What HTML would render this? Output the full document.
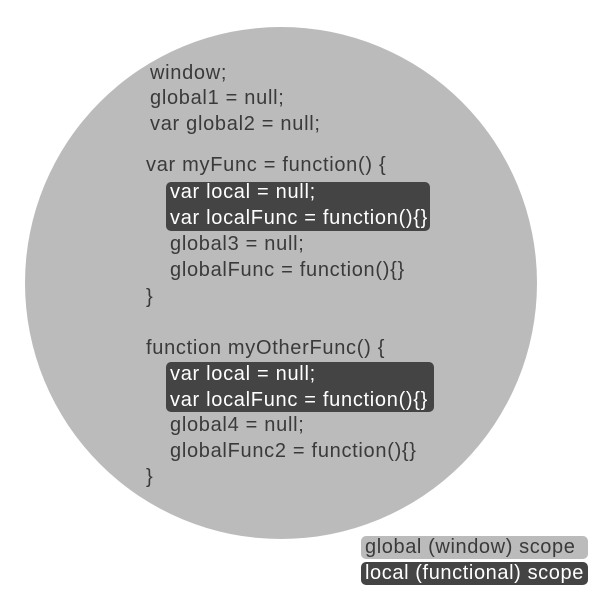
<!DOCTYPE html>
<html><head><style>
body{margin:0;width:600px;height:600px;background:#fff;position:relative;overflow:hidden;font-family:"Liberation Sans",Arial,sans-serif;}
.c{position:absolute;left:25px;top:27px;width:512px;height:512px;border-radius:50%;background:#bbbbbb;}
.t{position:absolute;font-size:20px;letter-spacing:0.7px;line-height:26px;color:#3a3a3a;white-space:pre;}
.w{color:#fff;}
.box{position:absolute;background:#444;border-radius:5px;}
.lg{position:absolute;left:361px;width:227px;height:23px;border-radius:5px;font-size:20px;letter-spacing:0.6px;line-height:23px;padding-left:4px;box-sizing:border-box;white-space:pre;}
</style></head><body>
<div class="c"></div>
<div class="box" style="left:166px;top:182px;width:264px;height:49px"></div>
<div class="box" style="left:166px;top:362px;width:268px;height:50px"></div>
<div class="t" style="left:150px;top:60px">window;</div>
<div class="t" style="left:150px;top:85px">global1 = null;</div>
<div class="t" style="left:150px;top:111px">var global2 = null;</div>
<div class="t" style="left:146px;top:152px">var myFunc = function() {</div>
<div class="t w" style="left:170px;top:179px">var local = null;</div>
<div class="t w" style="left:170px;top:205px">var localFunc = function(){}</div>
<div class="t" style="left:170px;top:231px">global3 = null;</div>
<div class="t" style="left:170px;top:257px">globalFunc = function(){}</div>
<div class="t" style="left:146px;top:284px">}</div>
<div class="t" style="left:146px;top:335px">function myOtherFunc() {</div>
<div class="t w" style="left:170px;top:361px">var local = null;</div>
<div class="t w" style="left:170px;top:387px">var localFunc = function(){}</div>
<div class="t" style="left:170px;top:412px">global4 = null;</div>
<div class="t" style="left:170px;top:438px">globalFunc2 = function(){}</div>
<div class="t" style="left:146px;top:464px">}</div>
<div class="lg" style="top:536px;background:#bbbbbb;color:#3a3a3a">global (window) scope</div>
<div class="lg" style="top:562px;background:#444;color:#fff">local (functional) scope</div>
</body></html>
